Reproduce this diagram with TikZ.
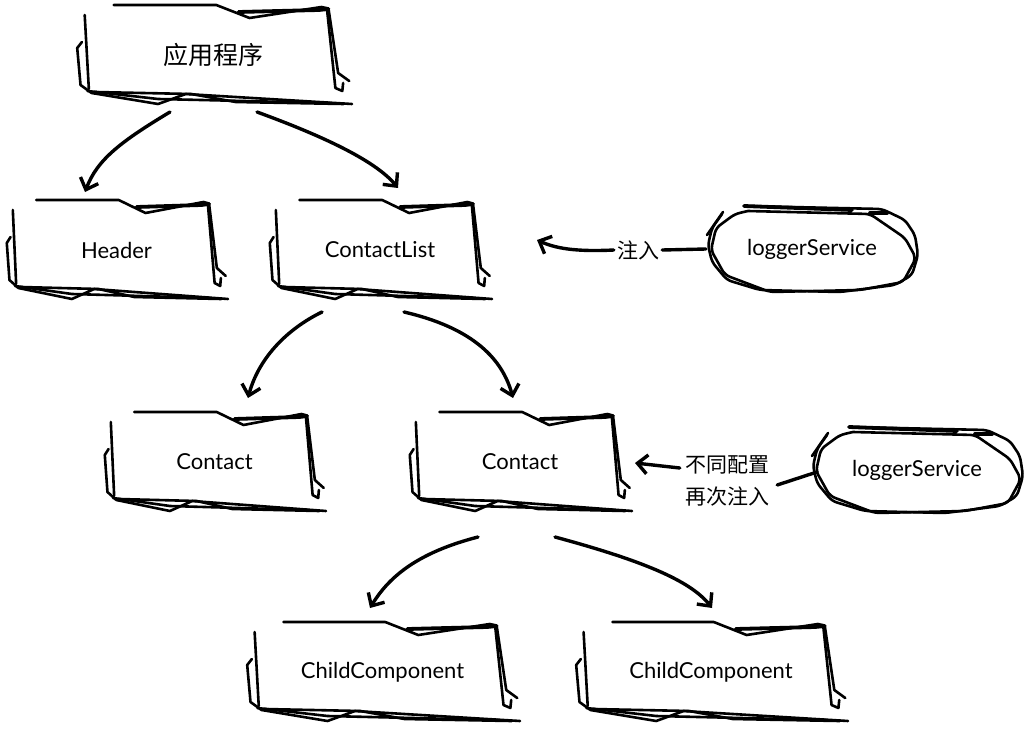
\documentclass[tikz,border=0pt]{standalone}
\usepackage{fontspec}
\setmainfont{Lato}
\newfontfamily\cjk{Noto Sans CJK SC}
\usetikzlibrary{arrows.meta,calc,shapes.geometric}

\tikzset{
  box/.style={minimum height=100pt, inner sep=0pt, outer sep=0pt, font=\fontsize{22}{26}\selectfont},
  oval/.style={ellipse, minimum width=212pt, minimum height=88pt, inner sep=0pt, outer sep=0pt, font=\fontsize{22}{26}\selectfont},
  sk/.style={line width=2.6pt, line join=round, line cap=round},
  skthick/.style={line width=3.8pt, line join=round, line cap=round},
  conn/.style={line width=3.4pt, line cap=round, -{Straight Barb[length=10pt,width=19pt]}},
  plainline/.style={line width=3.4pt, line cap=round},
  lbl/.style={font=\cjk\fontsize{21}{32}\selectfont, inner sep=3pt, align=center},
}

\newcommand\sketchbox[2]{%
  \begin{scope}[shift={(#1.north west)}, x={(#2pt,0pt)}, y={(0pt,-100pt)}]
    \draw[sk] (0.14,0) -- (0.51,0) -- (0.63,0.13) -- (0.89,0.02);
    \draw[skthick] (0.59,0.07) -- (0.88,0.05) -- (0.915,0.04);
    \draw[sk] (0.89,0.02) -- (0.915,0.035) -- (0.95,0.68) -- (0.99,0.76);
    \draw[sk] (0.91,0.05) -- (0.935,0.7) -- (0.94,0.83) -- (0.965,0.86) -- (0.968,0.78);
    \draw[sk] (0.035,0.1) -- (0.05,0.84);
    \draw[sk] (0.025,0.37) -- (0.008,0.43) -- (0.02,0.8) -- (0.06,0.88) -- (0.3,0.99) -- (0.4,0.89) -- (1.0,0.99);
    \draw[sk] (0.045,0.86) -- (0.3,0.94) -- (0.92,0.98);
    \draw[sk] (0.07,0.87) -- (0.42,0.89) -- (0.58,0.97) -- (0.97,0.99);
  \end{scope}}

\newcommand\sketchoval[1]{%
  \begin{scope}[shift={(#1.center)}]
    \draw[sk, rounded corners=5pt] (-68,-43) -- (70,-40) -- (93,-29) -- (103,-14) -- (106,6) -- (100,26) -- (83,36) -- (28,43) -- (-52,41) -- (-85,31) -- (-100,13) -- (-104,-4) -- (-100,-21) -- (-90,-35);
    \draw[sk, rounded corners=5pt] (-64,-38) -- (58,-35) -- (93,-11) -- (104,9) -- (91,33) -- (48,41) -- (-42,43) -- (-87,26) -- (-101,1) -- (-96,-21) -- (-77,-35) -- (-64,-38);
    \draw[sk] (-89,-37) -- (-105,-14);
    \draw[skthick] (-68,-43) -- (40,-39);
    \draw[skthick] (58,-36) -- (75,-36);
  \end{scope}}

\begin{document}
\begin{tikzpicture}[x=1pt, y=-1pt]
  \fill[white] (0,0) rectangle (1027,730);
  \useasboundingbox (0,0) rectangle (1027,730);

  % nodes
  \node[box, minimum width=277pt, font=\cjk\fontsize{25}{30}\selectfont] (app) at (213.5,55) {应用程序};
  \node[box, minimum width=223pt] (header) at (116.5,250) {Header};
  \node[box, minimum width=224pt] (clist) at (380,250) {ContactList};
  \node[box, minimum width=223pt] (contactL) at (214.5,462) {Contact};
  \node[box, minimum width=224pt] (contactR) at (520,462) {Contact};
  \node[box, minimum width=275pt] (child1) at (382.5,672) {ChildComponent};
  \node[box, minimum width=274pt] (child2) at (711,672) {ChildComponent};
  \node[oval] (logger1) at (812,249) {loggerService};
  \node[oval] (logger2) at (917,470) {loggerService};
  \node[lbl] (lbl1) at (638,250) {注入};
  \node[lbl] (lbl2) at (727,481) {不同配置\\再次注入};

  % sketchy outlines
  \sketchbox{app}{277}
  \sketchbox{header}{223}
  \sketchbox{clist}{224}
  \sketchbox{contactL}{223}
  \sketchbox{contactR}{224}
  \sketchbox{child1}{275}
  \sketchbox{child2}{274}
  \sketchoval{logger1}
  \sketchoval{logger2}

  % tree connectors
  \draw[conn] ($(app.south)+(-43.5,7)$) .. controls ($(app.south)+(-93.5,37)$) and ($(header.north)+(-19.5,-40)$) .. ($(header.north)+(-31.5,-8)$);
  \draw[conn] ($(app.south)+(43.5,7)$) .. controls ($(app.south)+(106.5,30)$) and ($(clist.north)+(-5,-40)$) .. ($(clist.north)+(18,-12)$);
  \draw[conn] ($(clist.south)+(-58,12)$) .. controls ($(clist.south)+(-95,30)$) and ($(contactL.north)+(43.5,-52)$) .. ($(contactL.north)+(33.5,-14)$);
  \draw[conn] ($(clist.south)+(24,12)$) .. controls ($(clist.south)+(80,25)$) and ($(contactR.north)+(-20,-62)$) .. ($(contactR.north)+(-7,-14)$);
  \draw[conn] ($(contactR.south)+(-42,25)$) .. controls ($(contactR.south)+(-100,40)$) and ($(child1.north)+(7.5,-47)$) .. ($(child1.north)+(-12.5,-14)$);
  \draw[conn] ($(contactR.south)+(35,25)$) .. controls ($(contactR.south)+(120,48)$) and ($(child2.north)+(-21,-42)$) .. ($(child2.north)+(1,-14)$);

  % injection connectors
  \draw[plainline] (logger1.west) -- (lbl1.east);
  \draw[conn] (lbl1.west) .. controls ($(lbl1.west)+(-40,2)$) and ($(clist.east)+(63,-2)$) .. ($(clist.east)+(45,-10)$);
  \draw[plainline] ($(logger2.west)+(6,2)$) -- ($(lbl2.east)+(5,4)$);
  \draw[conn] ($(lbl2.west)+(-2,-13)$) -- ($(contactR.east)+(3,1)$);
\end{tikzpicture}
\end{document}
